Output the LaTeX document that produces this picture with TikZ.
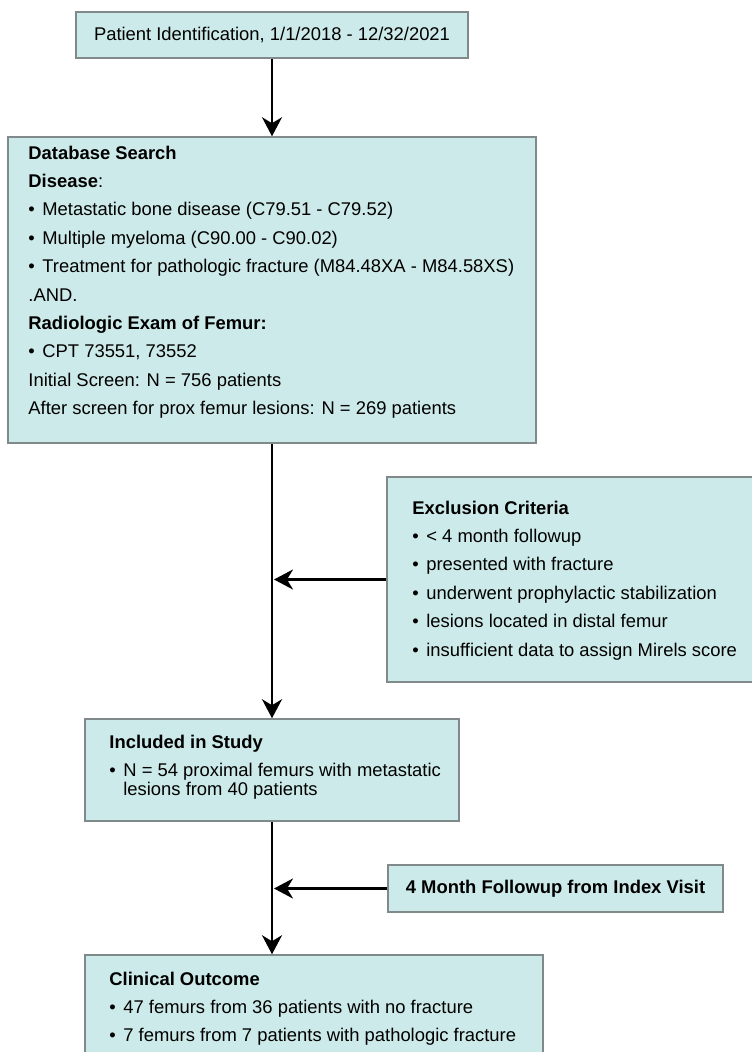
\documentclass[tikz,border=0pt]{standalone}
\usepackage{fontspec}
\setmainfont{Liberation Sans}
\definecolor{boxfill}{RGB}{204,234,233}
\definecolor{boxline}{RGB}{128,138,138}
\usetikzlibrary{arrows.meta, positioning}
\newcommand{\bul}{\textbullet\hspace{7.5pt}}
\tikzset{
  panel/.style={rectangle, draw=boxline, fill=boxfill, line width=1.5pt, inner sep=0pt, font=\fontsize{18.4}{28.4}\selectfont},
  paneltext/.style={inner sep=0pt, align=left, font=\fontsize{18.4}{28.4}\selectfont},
  arrow/.style={line width=2.5pt, -{Stealth[length=19pt, width=20pt, inset=6pt]}}
}
\begin{document}
\begin{tikzpicture}[x=1pt, y=-1pt]
  \useasboundingbox (0,0) rectangle (752,1052);
  \clip (0,0) rectangle (752,1052);

  % Boxes
  \node (ident) [panel, minimum width=392pt, minimum height=46pt] at (272,35) {Patient Identification, 1/1/2018 - 12/32/2021};
  \node (db) [panel, minimum width=528pt, minimum height=306pt] at (272,290) {};
  \node (excl) [panel, minimum width=367pt, minimum height=205pt] at (570.5,579.5) {};
  \node (incl) [panel, minimum width=374pt, minimum height=102pt] at (272,770) {};
  \node (follow) [panel, minimum width=335pt, minimum height=47pt, font=\fontsize{18.4}{28.4}\selectfont\bfseries] at (555.5,888.5) {4 Month Followup from Index Visit};
  \node (clin) [panel, minimum width=458pt, minimum height=120pt] at (314,1015) {};

  % Box texts
  \node (dbtext) [paneltext, below right=9.4pt and 21pt of db.north west] {\textbf{Database Search}\\
    \textbf{Disease}:\\
    \bul Metastatic bone disease (C79.51 - C79.52)\\
    \bul Multiple myeloma (C90.00 - C90.02)\\
    \bul Treatment for pathologic fracture (M84.48XA - M84.58XS)\\
    .AND.\\
    \textbf{Radiologic Exam of Femur:}\\
    \bul CPT 73551, 73552\\
    Initial Screen: N = 756 patients\\
    After screen for prox femur lesions: N = 269 patients};
  \node (excltext) [paneltext, below right=24.4pt and 26pt of excl.north west] {\textbf{Exclusion Criteria}\\
    \bul < 4 month followup\\
    \bul presented with fracture\\
    \bul underwent prophylactic stabilization\\
    \bul lesions located in distal femur\\
    \bul insufficient data to assign Mirels score};
  \node (incltext) [paneltext, below right=16.4pt and 25pt of incl.north west] {\textbf{Included in Study}\\
    \bul N = 54 proximal femurs with metastatic\\[-9pt]
    \phantom{\bul}lesions from 40 patients};
  \node (clintext) [paneltext, below right=17.4pt and 25pt of clin.north west] {\textbf{Clinical Outcome}\\
    \bul 47 femurs from 36 patients with no fracture\\
    \bul 7 femurs from 7 patients with pathologic fracture};

  % Connectors
  \draw [arrow] (ident) -- (db);
  \draw [arrow] (db) -- (incl);
  \draw [arrow, shorten >=2pt] (excl.west) -- (excl.west -| db.south);
  \draw [arrow] (incl.south) -- (incl.south |- clin.north);
  \draw [arrow, shorten >=2pt] (follow.west) -- (follow.west -| incl.south);
\end{tikzpicture}
\end{document}
